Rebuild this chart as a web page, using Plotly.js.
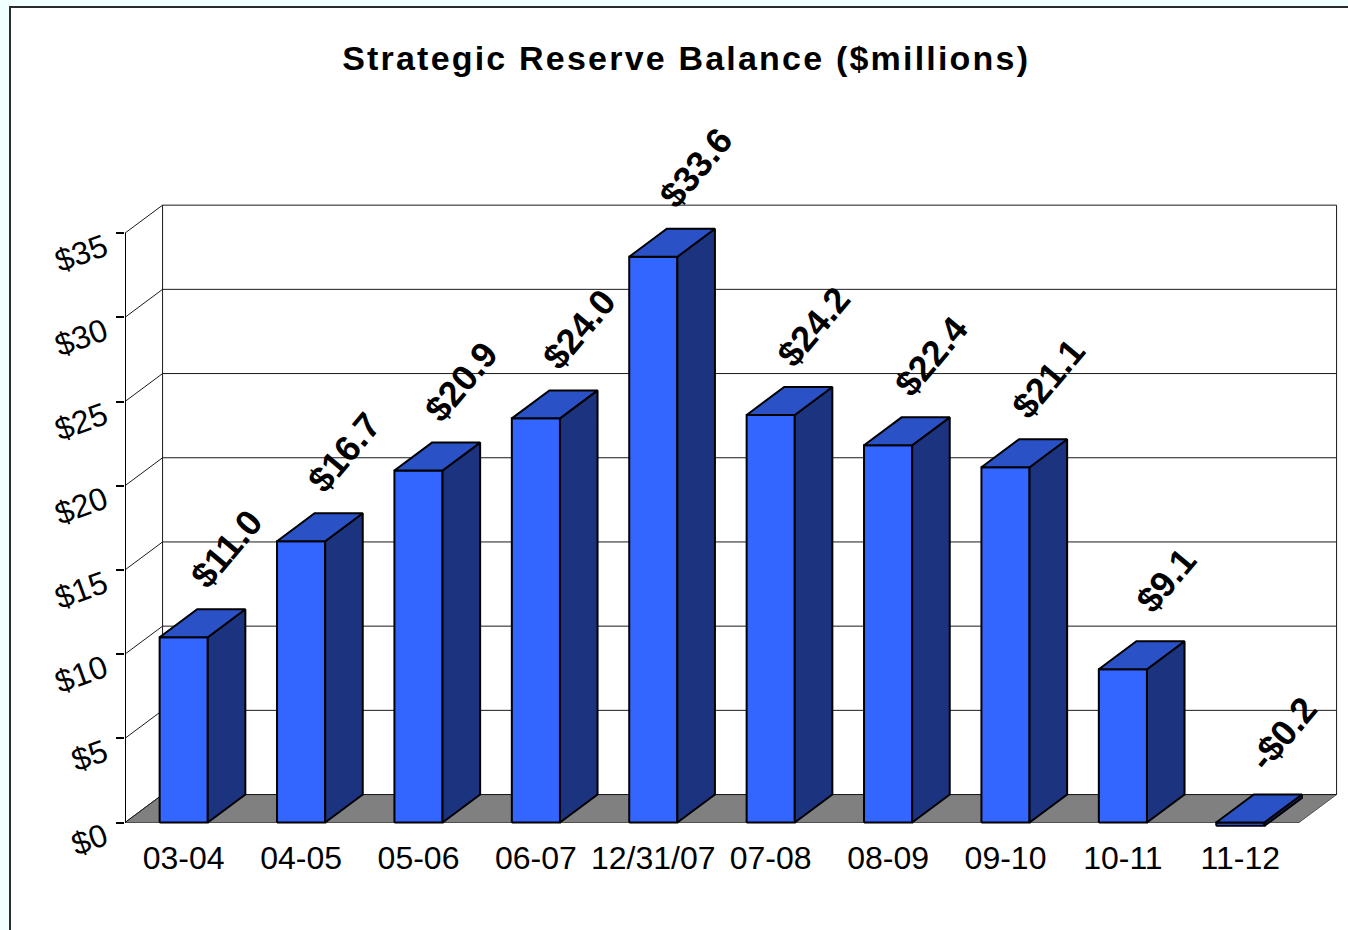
<!DOCTYPE html>
<html><head><meta charset="utf-8">
<script src="https://cdn.plot.ly/plotly-3.0.1.min.js"></script>
<style>
html,body{margin:0;padding:0;background:#F0FFFF;width:1348px;height:930px;overflow:hidden}
#frame{position:absolute;left:9px;top:6px;width:1339px;height:924px;border-left:2px solid #2b2b2b;border-top:2px solid #2b2b2b;background:#fff}
#chart{width:1337px;height:922px}
.gtitle{letter-spacing:2.2px}
</style></head><body>
<div id="frame"><div id="chart"></div></div>
<script>
// ---- data ----
const categories = ['03-04','04-05','05-06','06-07','12/31/07','07-08','08-09','09-10','10-11','11-12'];
const balances = [11.0, 16.7, 20.9, 24.0, 33.6, 24.2, 22.4, 21.1, 9.1, -0.2];
const yTickValues = [0, 5, 10, 15, 20, 25, 30, 35];
const yTickLabels = ['$0', '$5', '$10', '$15', '$20', '$25', '$30', '$35'];

// ---- geometry (data units) ----
const HALF = 0.205;   // half width of the bar front face
const DX = 0.32;      // depth offset along x
const DY = 1.66;      // depth offset along y
const X0 = -0.5, X1 = categories.length - 0.5;
const WALL_TOP = yTickValues[yTickValues.length - 1];

const FONT = 'Liberation Sans, Arial, sans-serif';

function fmt(v) { return (v < 0 ? '-$' : '$') + Math.abs(v).toFixed(1); }

// floor
const floor = {
  x: [X0, X1, X1 + DX, X0 + DX, X0], y: [0, 0, DY, DY, 0],
  type: 'scatter', mode: 'lines', fill: 'toself', fillcolor: '#808080',
  line: {color: '#505050', width: 1}, hoverinfo: 'skip'
};
// wall grid lines
const wx = [], wy = [];
yTickValues.forEach(t => { wx.push(X0, X0 + DX, X1 + DX, null); wy.push(t, t + DY, t + DY, null); });
wx.push(X0 + DX, X0 + DX, null, X1 + DX, X1 + DX); wy.push(DY, WALL_TOP + DY, null, DY, WALL_TOP + DY);
const wall = {x: wx, y: wy, type: 'scatter', mode: 'lines', line: {color: '#1a1a1a', width: 1}, hoverinfo: 'skip'};
// front value axis line
const axisLine = {x: [X0, X0], y: [0, WALL_TOP], type: 'scatter', mode: 'lines', line: {color: '#000', width: 2}, hoverinfo: 'skip'};

// bars
const fx = [], fy = [], sx = [], sy = [], tx = [], ty = [];
balances.forEach((v, i) => {
  const lo = Math.min(v, 0), hi = Math.max(v, 0);
  const a = i - HALF, b = i + HALF;
  fx.push(a, b, b, a, a, null); fy.push(lo, lo, hi, hi, lo, null);
  sx.push(b, b + DX, b + DX, b, b, null); sy.push(lo, lo + DY, hi + DY, hi, lo, null);
  tx.push(a, b, b + DX, a + DX, a, null); ty.push(hi, hi, hi + DY, hi + DY, hi, null);
});
const mk = (x, y, c) => ({x, y, type: 'scatter', mode: 'lines', fill: 'toself', fillcolor: c,
  line: {color: '#000', width: 2}, hoverinfo: 'skip'});
const fronts = mk(fx, fy, '#3366FF');
const sides = mk(sx, sy, '#1C3380');
const tops = mk(tx, ty, '#2A52C6');

const annotations = balances.map((v, i) => ({
  x: i + DX / 2, y: Math.max(v, 0) + DY / 2, xref: 'x', yref: 'y',
  text: fmt(v), showarrow: false, textangle: -50,
  xanchor: 'center', yanchor: 'middle', xshift: 24, yshift: 75,
  font: {family: FONT, size: 36, color: '#000', weight: 'bold'}
}));

const layout = {
  width: 1337, height: 922,
  margin: {l: 114, r: 3, t: 102, b: 100, pad: 0},
  paper_bgcolor: '#ffffff', plot_bgcolor: 'rgba(0,0,0,0)',
  showlegend: false,
  title: {text: 'Strategic Reserve Balance ($millions)', font: {family: FONT, size: 34, color: '#000', weight: 'bold'},
    x: 0.505, xref: 'container', xanchor: 'center', y: 0.946, yref: 'container', yanchor: 'middle'},
  xaxis: {range: [X0, X0 + 1220 / 117.4], tickvals: categories.map((c, i) => i), ticktext: categories,
    showgrid: false, zeroline: false, showline: false, ticks: '', fixedrange: true, ticklabelstandoff: 6,
    tickfont: {family: FONT, size: 32, color: '#000'}},
  yaxis: {range: [-0.445, 42.31], tickvals: yTickValues, ticktext: yTickLabels,
    ticks: 'outside', ticklen: 8, tickwidth: 2, tickcolor: '#000',
    showgrid: false, zeroline: false, showline: false, tickangle: -20, ticklabelshift: 11, ticklabelstandoff: 5,
    fixedrange: true, tickfont: {family: FONT, size: 32, color: '#000'}},
  annotations
};
Plotly.newPlot('chart', [floor, wall, axisLine, fronts, sides, tops], layout, {displayModeBar: false, staticPlot: true});
</script>
</body></html>
